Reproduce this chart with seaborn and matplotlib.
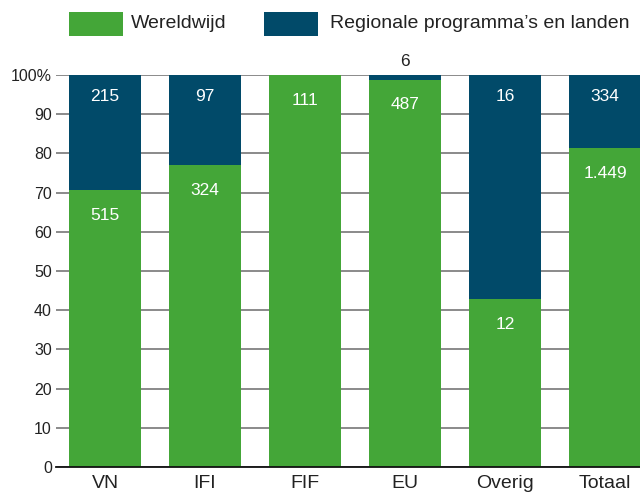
import numpy as np
import pandas as pd
import matplotlib
matplotlib.use("Agg")
import matplotlib.pyplot as plt
from matplotlib.patches import Rectangle
import seaborn as sns

# ── Data ────────────────────────────────────────────────────────────────────
CATEGORIES = ["VN", "IFI", "FIF", "EU", "Overig", "Totaal"]
WERELDWIJD = [515, 324, 111, 487, 12, 1449]
REGIONAAL = [215, 97, 0, 6, 16, 334]
LEGEND_LABELS = ["Wereldwijd", "Regionale programma\u2019s en landen"]

GREEN = "#44a638"
NAVY = "#014a69"
TXT = "#222222"

sns.set_theme(style="white")
plt.rcParams["font.family"] = ["Liberation Sans", "DejaVu Sans"]


def fmt(v):
    return f"{v:,}".replace(",", ".")


df = pd.DataFrame({"cat": CATEGORIES, "wereld": WERELDWIJD, "regio": REGIONAAL})
df["totaal"] = df["wereld"] + df["regio"]
df["pct_wereld"] = df["wereld"] / df["totaal"] * 100
df["pct_all"] = 100.0

fig = plt.figure(figsize=(6.4, 4.95), dpi=100)
ax = fig.add_axes([56 / 640, 1 - 467 / 495, 1 - 56 / 640, (467 - 75) / 495])

sns.barplot(data=df, x="cat", y="pct_all", order=CATEGORIES, color=NAVY,
            width=0.72, saturation=1, linewidth=0, edgecolor="none", ax=ax, zorder=2)
sns.barplot(data=df, x="cat", y="pct_wereld", order=CATEGORIES, color=GREEN,
            width=0.72, saturation=1, linewidth=0, edgecolor="none", ax=ax, zorder=3)

# value labels
for i, row in df.iterrows():
    ax.text(i, row["pct_wereld"] - 6.4, fmt(row["wereld"]), ha="center", va="center",
            color="white", fontsize=12.5, zorder=5)
    if row["regio"] == 0:
        continue
    seg = 100 - row["pct_wereld"]
    if seg > 8:
        ax.text(i, 100 - 5.6, fmt(row["regio"]), ha="center", va="center",
                color="white", fontsize=12.5, zorder=5)
    else:
        ax.text(i, 103.4, fmt(row["regio"]), ha="center", va="center",
                color=TXT, fontsize=12.5, clip_on=False, zorder=5)

ax.set_ylim(0, 100)
ax.set_xlim(-0.49, 5.35)
ticks = list(range(0, 101, 10))
ax.set_yticks(ticks)
ax.set_yticklabels([str(t) if t < 100 else "100%" for t in ticks], fontsize=11.5, color=TXT)
ax.set_xticks(range(len(CATEGORIES)))
ax.set_xticklabels(CATEGORIES, fontsize=14, color=TXT)
ax.set_xlabel("")
ax.set_ylabel("")
ax.tick_params(axis="y", length=0, pad=3)
ax.tick_params(axis="x", length=0, pad=6)

ax.yaxis.grid(True, color="#8a8a8a", linewidth=1.4, zorder=0)
ax.set_axisbelow(True)
for s in ["top", "right", "left"]:
    ax.spines[s].set_visible(False)
ax.spines["bottom"].set_color("#111111")
ax.spines["bottom"].set_linewidth(1.3)
ax.spines["bottom"].set_zorder(6)

# legend row at the top
for x0, x_txt, col, lab in [(69, 131, GREEN, LEGEND_LABELS[0]),
                            (264, 330, NAVY, LEGEND_LABELS[1])]:
    fig.add_artist(Rectangle((x0 / 640, 1 - 36 / 495), 54 / 640, 24 / 495,
                             transform=fig.transFigure, facecolor=col, edgecolor="none"))
    fig.text(x_txt / 640, 1 - 24 / 495, lab, ha="left", va="center",
             fontsize=14, color=TXT)

fig.savefig("out.png", dpi=100)
